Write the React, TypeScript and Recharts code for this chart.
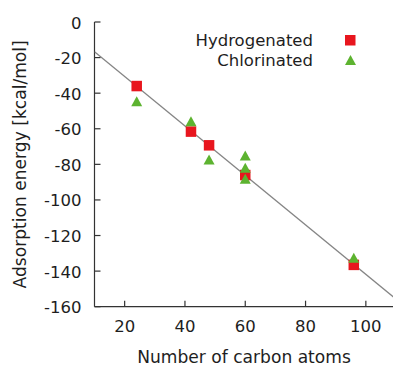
import { ComposedChart, Scatter, XAxis, YAxis, Legend } from "recharts";

const FONT = '"DejaVu Sans", sans-serif';
const TEXT = '#1e1e1e';
const AXIS = '#333';
const RED = '#e8161e';
const GREEN = '#5db330';

const xTicks = [20, 40, 60, 80, 100];
const yTicks = [0, -20, -40, -60, -80, -100, -120, -140, -160];

const hydroAtoms = [24, 42, 48, 60, 96];
const hydroEnergy = [-36, -61.6, -69.3, -86, -136.5];

const chloroAtoms = [24, 42, 48, 60, 60, 60, 96];
const chloroEnergy = [-44.8, -56, -77.5, -75.3, -82.2, -88.4, -132.8];

const fitAtoms = [10, 110];
const fitEnergy = [-16.7, -155.7];

const hydro = hydroAtoms.map((x, i) => ({ x, y: hydroEnergy[i] }));
const chloro = chloroAtoms.map((x, i) => ({ x, y: chloroEnergy[i] }));
const fit = fitAtoms.map((x, i) => ({ x, y: fitEnergy[i] }));

const Square = ({ cx, cy }: any) => (
  <rect x={cx - 5.25} y={cy - 5.25} width={10.5} height={10.5} fill={RED} />
);

const Triangle = ({ cx, cy }: any) => (
  <polygon points={`${cx},${cy - 5.5} ${cx - 5.5},${cy + 4.5} ${cx + 5.5},${cy + 4.5}`} fill={GREEN} />
);

const BottomTick = ({ x, y, payload }: any) => (
  <g>
    <line x1={x} x2={x} y1={y} y2={y - 6} stroke={AXIS} strokeWidth={1.2} />
    <text x={x} y={y + 25.6} textAnchor="middle" fontFamily={FONT} fontSize={16.5} fill={TEXT}>
      {payload.value}
    </text>
  </g>
);

const TopTick = ({ x, y }: any) => (
  <line x1={x} x2={x} y1={y} y2={y + 6} stroke={AXIS} strokeWidth={1.2} />
);

const LeftTick = ({ x, y, payload }: any) => (
  <g>
    <line x1={x} x2={x + 6} y1={y} y2={y} stroke={AXIS} strokeWidth={1.2} />
    <text x={x - 13} y={y + 6.5} textAnchor="end" fontFamily={FONT} fontSize={16.5} fill={TEXT}>
      {payload.value}
    </text>
  </g>
);

const RightTick = ({ x, y }: any) => (
  <line x1={x} x2={x - 6} y1={y} y2={y} stroke={AXIS} strokeWidth={1.2} />
);

const xTitle = ({ viewBox }: any) => (
  <text x={244} y={viewBox.y + 55.8} textAnchor="middle" fontFamily={FONT} fontSize={17.1} fill={TEXT}>
    Number of carbon atoms
  </text>
);

const yTitle = ({ viewBox }: any) => {
  const cy = viewBox.y + viewBox.height / 2;
  return (
    <text
      x={20}
      y={cy}
      transform={`rotate(-90, 20, ${cy})`}
      textAnchor="middle"
      dominantBaseline="central"
      fontFamily={FONT}
      fontSize={17.1}
      fill={TEXT}
    >
      Adsorption energy [kcal/mol]
    </text>
  );
};

const LegendBox = () => (
  <div style={{ fontFamily: FONT, fontSize: 16.5, color: TEXT }}>
    {[
      { name: 'Hydrogenated', mark: <rect x={0} y={0} width={10.5} height={10.5} fill={RED} /> },
      { name: 'Chlorinated', mark: <polygon points="5.5,0 0,10 11,10" fill={GREEN} /> },
    ].map((row) => (
      <div key={row.name} style={{ display: 'flex', alignItems: 'center', height: 20 }}>
        <span style={{ width: 133, textAlign: 'right', whiteSpace: 'nowrap' }}>{row.name}</span>
        <svg width={11} height={11} style={{ marginLeft: 31.5 }}>
          {row.mark}
        </svg>
      </div>
    ))}
  </div>
);

export default function App() {
  return (
    <div style={{ position: 'absolute', left: 0, top: 0, width: 393, height: 365, overflow: 'hidden', background: '#fff' }}>
      <ComposedChart width={400} height={365} margin={{ top: 22, right: 4, bottom: 0, left: 0 }}>
        <XAxis
          xAxisId="bottom"
          type="number"
          dataKey="x"
          domain={[10, 110]}
          ticks={xTicks}
          allowDataOverflow
          height={58.3}
          tickSize={0}
          tickMargin={0}
          tickLine={false}
          tick={BottomTick}
          axisLine={{ stroke: AXIS, strokeWidth: 1.2 }}
          label={{ content: xTitle }}
        />
        <XAxis
          xAxisId="top"
          orientation="top"
          type="number"
          domain={[10, 110]}
          ticks={xTicks}
          allowDataOverflow
          height={0}
          tickSize={0}
          tickMargin={0}
          tickLine={false}
          tick={TopTick}
          axisLine={{ stroke: AXIS, strokeWidth: 1.2 }}
        />
        <YAxis
          yAxisId="left"
          type="number"
          dataKey="y"
          domain={[-160, 0]}
          ticks={yTicks}
          allowDataOverflow
          width={94.5}
          tickSize={0}
          tickMargin={0}
          tickLine={false}
          tick={LeftTick}
          axisLine={{ stroke: AXIS, strokeWidth: 1.2 }}
          label={{ content: yTitle }}
        />
        <YAxis
          yAxisId="right"
          orientation="right"
          type="number"
          domain={[-160, 0]}
          ticks={yTicks}
          allowDataOverflow
          width={0}
          tickSize={0}
          tickMargin={0}
          tickLine={false}
          tick={RightTick}
          axisLine={{ stroke: AXIS, strokeWidth: 1.2 }}
        />
        <Legend
          layout="vertical"
          align="center"
          verticalAlign="middle"
          content={LegendBox}
          wrapperStyle={{ left: 180, top: 30, width: 180, height: 40 }}
        />
        <Scatter
          name="fit"
          data={fit}
          xAxisId="bottom"
          yAxisId="left"
          line={{ stroke: '#858585', strokeWidth: 1.3 }}
          shape={() => <g />}
          legendType="none"
          isAnimationActive={false}
        />
        <Scatter
          name="Hydrogenated"
          data={hydro}
          xAxisId="bottom"
          yAxisId="left"
          shape={Square}
          isAnimationActive={false}
        />
        <Scatter
          name="Chlorinated"
          data={chloro}
          xAxisId="bottom"
          yAxisId="left"
          shape={Triangle}
          isAnimationActive={false}
        />
      </ComposedChart>
    </div>
  );
}
